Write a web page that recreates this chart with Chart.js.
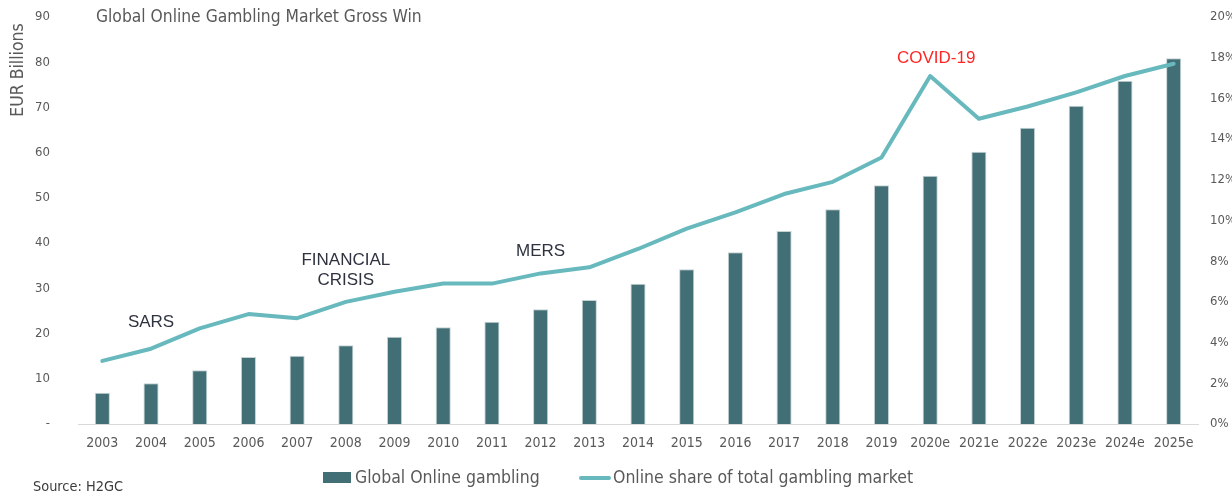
<!DOCTYPE html>
<html>
<head>
<meta charset="utf-8">
<script src="https://cdn.jsdelivr.net/npm/chart.js@4.4.1/dist/chart.umd.min.js"></script>
<style>
  html, body { margin: 0; padding: 0; background: #fff; }
</style>
</head>
<body>
<canvas id="grossWinChart" width="1232" height="493"></canvas>
<script>
// categories
const years = ["2003", "2004", "2005", "2006", "2007", "2008", "2009", "2010", "2011", "2012",
  "2013", "2014", "2015", "2016", "2017", "2018", "2019", "2020e", "2021e", "2022e",
  "2023e", "2024e", "2025e"];

// EUR billions (left axis)
const grossWin = [6.9, 9.0, 11.9, 14.8, 15.1, 17.4, 19.3, 21.4, 22.6, 25.4, 27.4, 31.0,
  34.2, 38.0, 42.7, 47.5, 52.8, 54.9, 60.2, 65.5, 70.4, 75.9, 80.9];

// % of total gambling market (right axis)
const onlineShare = [3.1, 3.7, 4.7, 5.4, 5.2, 6.0, 6.5, 6.9, 6.9, 7.4, 7.7, 8.6,
  9.6, 10.4, 11.3, 11.9, 13.1, 17.1, 15.0, 15.6, 16.3, 17.1, 17.7];

// tick labels
const leftTicks = [0, 10, 20, 30, 40, 50, 60, 70, 80, 90];
const rightTicks = [0, 2, 4, 6, 8, 10, 12, 14, 16, 18, 20];

// event labels: category index + left-axis value they sit at
const events = [
  { lines: ["SARS"], index: 1, value: 22.4, color: "#2f3340" },
  { lines: ["FINANCIAL", "CRISIS"], index: 5, value: 36.2, color: "#2f3340" },
  { lines: ["MERS"], index: 9, value: 38.2, color: "#2f3340" },
  { lines: ["COVID-19"], index: 17, value: 80.8, color: "#ff2626", dx: 6 }
];

const BAR = "#416f75";
const LINE = "#67b9be";
const GREY = "#595959";
const TXT = "'DejaVu Sans Condensed', 'DejaVu Sans', sans-serif";

// keep tick padding from pushing the plot area down
function noVPad(s) { s.paddingTop = 0; s.paddingBottom = 0; }

const extras = {
  id: "extras",
  afterDraw(chart) {
    const ctx = chart.ctx;
    const x = chart.scales.x, y = chart.scales.y;
    ctx.save();

    // title
    ctx.fillStyle = GREY;
    ctx.font = "17.3px " + TXT;
    ctx.textAlign = "left";
    ctx.textBaseline = "middle";
    ctx.fillText("Global Online Gambling Market Gross Win", 96, 18);

    // left axis title, rotated
    ctx.save();
    ctx.translate(18, 70);
    ctx.rotate(-Math.PI / 2);
    ctx.textAlign = "center";
    ctx.font = "17.5px " + TXT;
    ctx.fillText("EUR Billions", 0, 0);
    ctx.restore();

    // event labels
    ctx.font = "17px 'Liberation Sans', Arial, sans-serif";
    ctx.textAlign = "center";
    events.forEach(ev => {
      const px = x.getPixelForValue(ev.index) + (ev.dx || 0);
      const py = y.getPixelForValue(ev.value);
      ctx.fillStyle = ev.color;
      ev.lines.forEach((t, i) => ctx.fillText(t, px, py + i * 20));
    });

    // legend
    ctx.font = "17.5px " + TXT;
    ctx.textAlign = "left";
    ctx.fillStyle = BAR;
    ctx.fillRect(323, 472, 28, 11);
    ctx.fillStyle = GREY;
    ctx.fillText("Global Online gambling", 355, 478);
    ctx.strokeStyle = LINE;
    ctx.lineWidth = 4;
    ctx.lineCap = "round";
    ctx.beginPath();
    ctx.moveTo(581, 478);
    ctx.lineTo(609, 478);
    ctx.stroke();
    ctx.fillStyle = GREY;
    ctx.fillText("Online share of total gambling market", 613, 478);

    // source
    ctx.font = "14.4px " + TXT;
    ctx.fillStyle = "#3b3b3b";
    ctx.fillText("Source: H2GC", 33, 487);

    ctx.restore();
  }
};

const ctx = document.getElementById("grossWinChart").getContext("2d");
new Chart(ctx, {
  data: {
    labels: years,
    datasets: [
      {
        type: "line",
        label: "Online share of total gambling market",
        data: onlineShare,
        yAxisID: "y2",
        borderColor: LINE,
        borderWidth: 4,
        borderCapStyle: "round",
        borderJoinStyle: "round",
        pointRadius: 0,
        tension: 0,
        order: 1
      },
      {
        type: "bar",
        label: "Global Online gambling",
        data: grossWin,
        yAxisID: "y",
        backgroundColor: BAR,
        borderColor: "rgba(190,205,207,0.9)",
        borderWidth: 1,
        categoryPercentage: 1,
        barPercentage: 0.31,
        order: 2
      }
    ]
  },
  options: {
    responsive: false,
    animation: false,
    layout: { padding: { top: 17, left: 0, right: 0, bottom: 0 } },
    plugins: {
      legend: { display: false },
      tooltip: { enabled: false }
    },
    scales: {
      x: {
        grid: { display: false, drawTicks: false },
        border: { display: true, color: "#d9d9d9", width: 1 },
        ticks: {
          color: GREY,
          font: { family: TXT, size: 14 },
          padding: 11,
          maxRotation: 0,
          autoSkip: false
        },
        afterFit(s) { s.height = 69; }
      },
      y: {
        position: "left",
        min: 0,
        max: 90,
        afterBuildTicks(s) { s.ticks = leftTicks.map(v => ({ value: v })); },
        grid: { display: false, drawTicks: false },
        border: { display: false },
        ticks: {
          color: GREY,
          font: { family: TXT, size: 13 },
          padding: 28,
          callback: v => (v === 0 ? "-" : v)
        },
        afterFit(s) { s.width = 78; noVPad(s); }
      },
      y2: {
        position: "right",
        min: 0,
        max: 20,
        afterBuildTicks(s) { s.ticks = rightTicks.map(v => ({ value: v })); },
        grid: { display: false, drawTicks: false },
        border: { display: false },
        ticks: {
          color: GREY,
          font: { family: TXT, size: 13 },
          padding: 12,
          callback: v => v + "%"
        },
        afterFit(s) { s.width = 34; noVPad(s); }
      }
    }
  },
  plugins: [extras]
});
</script>
</body>
</html>
